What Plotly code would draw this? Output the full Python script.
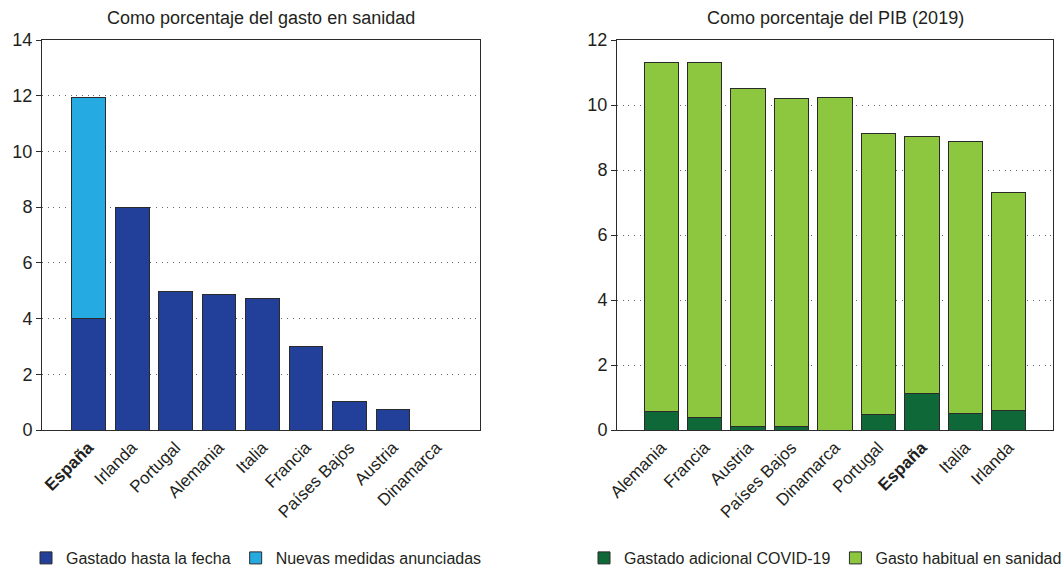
import plotly.graph_objects as go

# Panel 1: share of health expenditure
paises_gasto = ["España", "Irlanda", "Portugal", "Alemania", "Italia",
                "Francia", "Países Bajos", "Austria", "Dinamarca"]
gastado_fecha = [4.0, 8.0, 4.96, 4.88, 4.71, 3.01, 1.04, 0.72, 0.0]
nuevas_medidas = [7.93, 0, 0, 0, 0, 0, 0, 0, 0]

# Panel 2: share of GDP (2019)
paises_pib = ["Alemania", "Francia", "Austria", "Países Bajos", "Dinamarca",
              "Portugal", "España", "Italia", "Irlanda"]
covid_adicional = [0.57, 0.38, 0.12, 0.12, 0.0, 0.48, 1.11, 0.51, 0.61]
gasto_habitual = [10.73, 10.92, 10.38, 10.07, 10.22, 8.64, 7.92, 8.37, 6.71]

y1_ticks = [0, 2, 4, 6, 8, 10, 12, 14]
y2_ticks = [0, 2, 4, 6, 8, 10, 12]

FONT = "Arial, Liberation Sans, sans-serif"
INK = "#231f20"
EDGE = "#2b2b2b"


def bold_es(names):
    return [f"<b>{n}</b>" if n == "España" else n for n in names]


fig = go.Figure()

fig.add_trace(go.Bar(
    x=paises_gasto, y=gastado_fecha, name="Gastado hasta la fecha",
    marker=dict(color="#22409a", line=dict(color=EDGE, width=1)),
    width=0.78, xaxis="x", yaxis="y", legend="legend"))
fig.add_trace(go.Bar(
    x=paises_gasto, y=nuevas_medidas, name="Nuevas medidas anunciadas",
    marker=dict(color="#25aae1", line=dict(color=EDGE, width=1)),
    width=0.78, xaxis="x", yaxis="y", legend="legend"))

fig.add_trace(go.Bar(
    x=paises_pib, y=covid_adicional, name="Gastado adicional COVID-19",
    marker=dict(color="#0e6838", line=dict(color=EDGE, width=1)),
    width=0.79, xaxis="x2", yaxis="y2", legend="legend2"))
fig.add_trace(go.Bar(
    x=paises_pib, y=gasto_habitual, name="Gasto habitual en sanidad",
    marker=dict(color="#8dc63f", line=dict(color=EDGE, width=1)),
    width=0.79, xaxis="x2", yaxis="y2", legend="legend2"))

L, R, T, B = 42, 11, 40, 141
W, H = 1064, 571
pw = W - L - R
d1 = [0, (480 - L) / pw]
d2 = [(617 - L) / pw, 1]

xcommon = dict(type="category", tickangle=-45, showgrid=False, ticks="",
               showline=True, linecolor=EDGE, linewidth=1, mirror=True,
               automargin=False,
               tickfont=dict(family=FONT, size=17, color=INK))
ycommon = dict(showgrid=True, gridcolor="#666666", griddash="1px,4.7px", gridwidth=1,
               ticks="outside", ticklen=5, tickcolor=EDGE, showline=True,
               linecolor=EDGE, linewidth=1, mirror=True, zeroline=False,
               automargin=False,
               tickfont=dict(family=FONT, size=18, color=INK))

legcommon = dict(orientation="h", xref="container", yref="container",
                 yanchor="middle", y=1 - 558 / H, xanchor="left",
                 bgcolor="rgba(0,0,0,0)",
                 font=dict(family=FONT, size=16, color=INK),
                 itemwidth=30, traceorder="normal", tracegroupgap=0)

fig.update_layout(
    width=W, height=H,
    margin=dict(l=L, r=R, t=T, b=B, autoexpand=False),
    paper_bgcolor="white", plot_bgcolor="white",
    barmode="stack", showlegend=True,
    xaxis=dict(xcommon, domain=d1, anchor="y", range=[-1.07, 9.0],
               tickvals=paises_gasto, ticktext=bold_es(paises_gasto)),
    yaxis=dict(ycommon, anchor="x", range=[0, 14], tickvals=y1_ticks),
    xaxis2=dict(xcommon, domain=d2, anchor="y2", range=[-1.02, 9.02],
                tickvals=paises_pib, ticktext=bold_es(paises_pib)),
    yaxis2=dict(ycommon, anchor="x2", range=[0, 12], tickvals=y2_ticks),
    legend=dict(legcommon, x=26 / W),
    legend2=dict(legcommon, x=584 / W),
    annotations=[
        dict(text="Como porcentaje del gasto en sanidad", xref="paper", yref="paper",
             x=(d1[0] + d1[1]) / 2, y=1, xanchor="center", yanchor="bottom",
             yshift=10, showarrow=False,
             font=dict(family=FONT, size=18, color=INK)),
        dict(text="Como porcentaje del PIB (2019)", xref="paper", yref="paper",
             x=(d2[0] + d2[1]) / 2, y=1, xanchor="center", yanchor="bottom",
             yshift=10, showarrow=False,
             font=dict(family=FONT, size=18, color=INK)),
    ],
)

fig.write_html("out.html")
